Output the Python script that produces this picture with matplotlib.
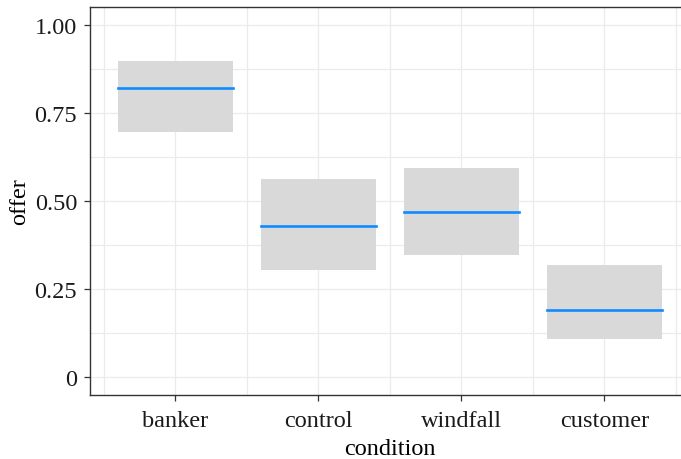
import numpy as np
import matplotlib
matplotlib.use('Agg')
import matplotlib.pyplot as plt

# data
conditions = ['banker', 'control', 'windfall', 'customer']
means = [0.819, 0.429, 0.470, 0.192]
lowers = [0.697, 0.304, 0.347, 0.109]
uppers = [0.898, 0.5625, 0.594, 0.318]

plt.rcParams['font.family'] = ['Liberation Serif', 'DejaVu Serif']

fig = plt.figure(figsize=(6.81, 4.60), dpi=100)
# axes runs past the right edge of the figure, like the cropped original
ax = fig.add_axes([89.5/681, 1 - 396/460, 600.6/681, 388/460])

x = np.arange(1, len(conditions) + 1)
w = 0.8
for xi, lo, up, m in zip(x, lowers, uppers, means):
	ax.bar(xi, up - lo, bottom=lo, width=w, color='#d9d9d9', zorder=2, linewidth=0)
	ax.plot([xi - w/2, xi + w/2], [m, m], color='#0f8aff', lw=1.9, zorder=3)

ax.set_xlim(0.4, 4.6)
ax.set_ylim(-0.05, 1.05)
ax.set_xticks(x)
ax.set_xticklabels(conditions)
ax.set_xticks(np.arange(0.5, 5.0, 1.0), minor=True)
ax.set_yticks([0, 0.25, 0.5, 0.75, 1.0])
ax.set_yticklabels(['0', '0.25', '0.50', '0.75', '1.00'])
ax.set_yticks([0.125, 0.375, 0.625, 0.875], minor=True)

ax.grid(True, which='both', color='#ebebeb', lw=0.9, zorder=0)
ax.set_axisbelow(True)
ax.tick_params(which='minor', length=0)
ax.tick_params(which='major', length=4, width=0.9, color='#333333', labelsize=17.5, labelcolor='#1a1a1a')
ax.tick_params(axis='x', pad=7)
ax.tick_params(axis='y', pad=5)
for s in ax.spines.values():
	s.set_color('#333333')
	s.set_linewidth(1.0)

ax.set_xlabel('condition', fontsize=17.5, labelpad=4.5)
ax.set_ylabel('offer', fontsize=17.5, labelpad=3)

fig.savefig('out.png', dpi=100)
